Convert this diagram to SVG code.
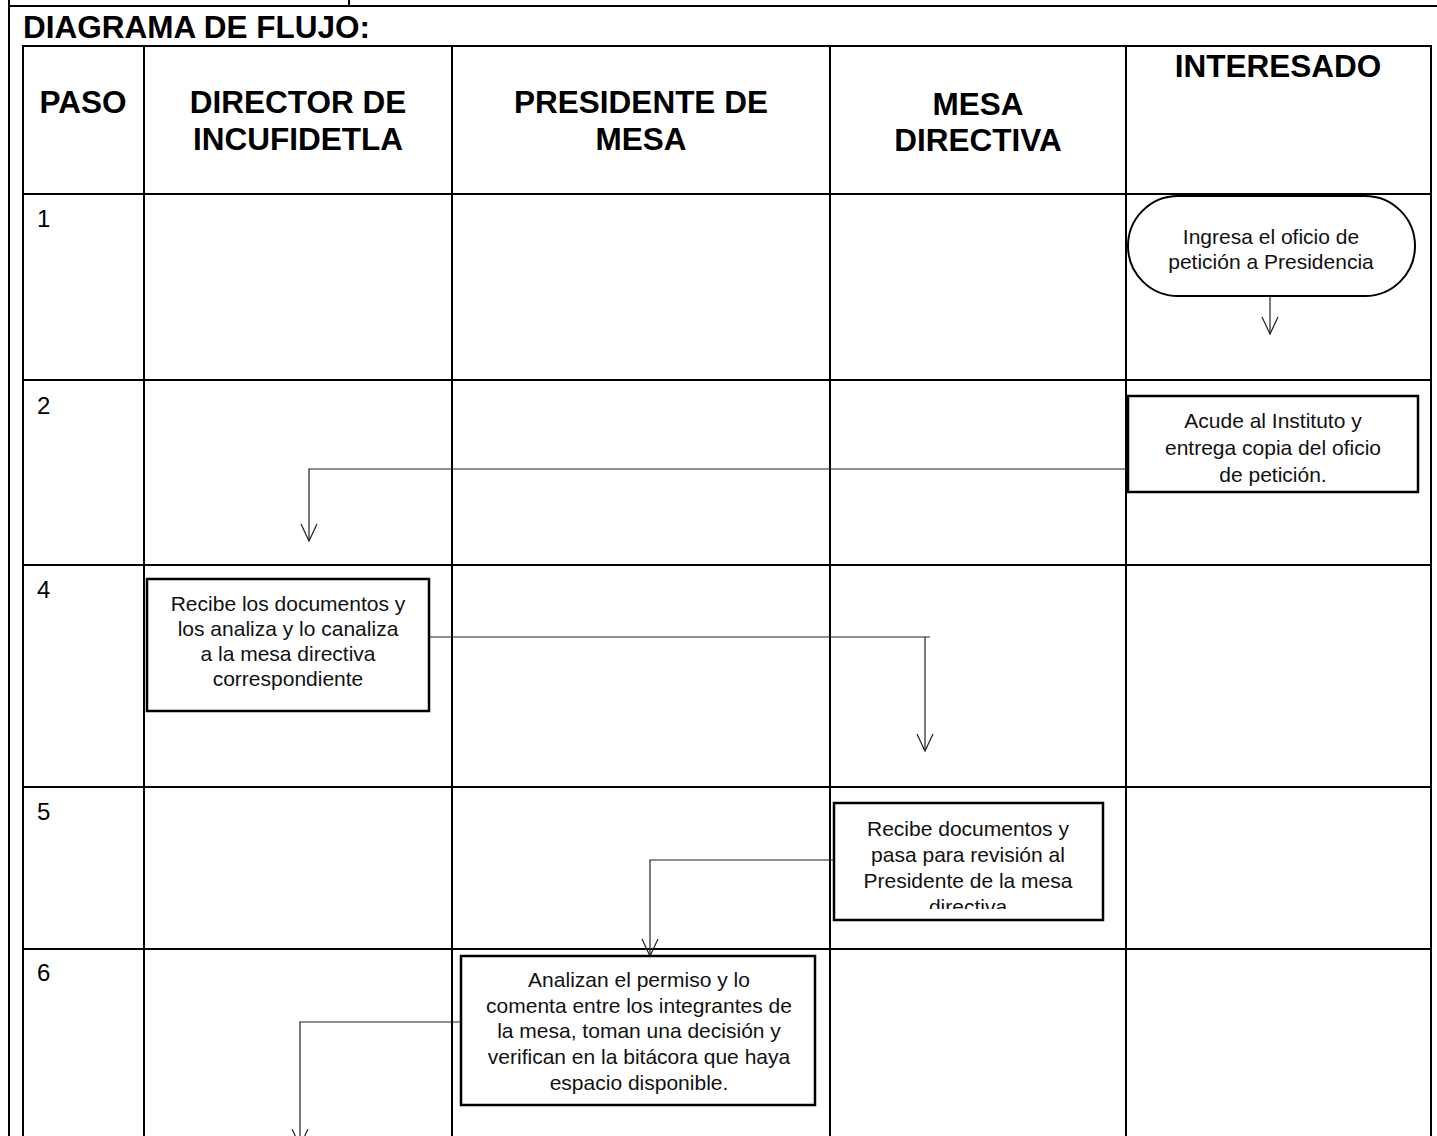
<svg xmlns="http://www.w3.org/2000/svg" width="1437" height="1136" viewBox="0 0 1437 1136">
<style>
.frame{fill:none;stroke:#000;stroke-width:2}
.grid{stroke:#000;stroke-width:2;fill:none}
.hd{font-family:"Liberation Sans",Arial,sans-serif;font-weight:bold;font-size:31.5px;fill:#000;text-anchor:middle}
.step{font-family:"Liberation Sans",Arial,sans-serif;font-size:24px;fill:#000}
.lbl{font-family:"Liberation Sans",Arial,sans-serif;font-size:21px;fill:#111;text-anchor:middle}
.box{fill:#fff;stroke:#000;stroke-width:2.5}
.conn{fill:none;stroke:#222;stroke-width:1.2}
</style>
<defs>
<marker id="arr" markerUnits="userSpaceOnUse" markerWidth="24" markerHeight="24" viewBox="-20 -12 24 24" refX="0" refY="0" orient="auto" overflow="visible">
<path d="M-17,-8 L0,0 L-17,8" fill="none" stroke="#222" stroke-width="1.2"/>
</marker>
<clipPath id="c2"><rect x="1130" y="398" width="286" height="88"/></clipPath>
<clipPath id="c5"><rect x="836" y="805" width="265" height="104"/></clipPath>
</defs>
<rect width="1437" height="1136" fill="#fff"/>
<g id="page-frame">
<line class="frame" x1="9" y1="0" x2="9" y2="1136"/>
<line class="frame" x1="9" y1="6" x2="1437" y2="6"/>
<line class="frame" x1="349" y1="0" x2="349" y2="6"/>
</g>
<text id="title" x="23" y="38" class="hd" style="text-anchor:start">DIAGRAMA DE FLUJO:</text>
<g id="table">
<rect class="grid" x="23" y="46" width="1408" height="1100"/>
<line class="grid" x1="23" y1="194" x2="1431" y2="194"/>
<line class="grid" x1="23" y1="380" x2="1431" y2="380"/>
<line class="grid" x1="23" y1="565" x2="1431" y2="565"/>
<line class="grid" x1="23" y1="787" x2="1431" y2="787"/>
<line class="grid" x1="23" y1="949" x2="1431" y2="949"/>
<line class="grid" x1="144" y1="46" x2="144" y2="1136"/>
<line class="grid" x1="452" y1="46" x2="452" y2="1136"/>
<line class="grid" x1="830" y1="46" x2="830" y2="1136"/>
<line class="grid" x1="1126" y1="46" x2="1126" y2="1136"/>
<text class="hd" x="83" y="113">PASO</text>
<text class="hd" x="298" y="113">DIRECTOR DE</text>
<text class="hd" x="298" y="150">INCUFIDETLA</text>
<text class="hd" x="641" y="113">PRESIDENTE DE</text>
<text class="hd" x="641" y="150">MESA</text>
<text class="hd" x="978" y="115">MESA</text>
<text class="hd" x="978" y="151">DIRECTIVA</text>
<text class="hd" x="1278" y="77">INTERESADO</text>
<text class="step" x="37" y="227">1</text>
<text class="step" x="37" y="414">2</text>
<text class="step" x="37" y="598">4</text>
<text class="step" x="37" y="820">5</text>
<text class="step" x="37" y="981">6</text>
</g>
<g id="connectors">
<path class="conn" d="M1270,296 L1270,334" marker-end="url(#arr)"/>
<path class="conn" d="M1136,469 L309,469 L309,541" marker-end="url(#arr)"/>
<path class="conn" d="M429,637 L930,637"/>
<path class="conn" d="M925,637 L925,751" marker-end="url(#arr)"/>
<path class="conn" d="M838,860 L650,860 L650,956" marker-end="url(#arr)"/>
<path class="conn" d="M461,1022 L300,1022 L300,1146" marker-end="url(#arr)"/>
</g>
<g id="n1">
<rect x="1128" y="196" width="287" height="100" rx="50" ry="50" fill="#fff" stroke="#000" stroke-width="2"/>
<text class="lbl" x="1271" y="244">Ingresa el oficio de</text>
<text class="lbl" x="1271" y="269">petición a Presidencia</text>
</g>
<g id="n2">
<rect class="box" x="1128" y="396" width="290" height="96"/>
<g clip-path="url(#c2)">
<text class="lbl" x="1273" y="428">Acude al Instituto y</text>
<text class="lbl" x="1273" y="455">entrega copia del oficio</text>
<text class="lbl" x="1273" y="482">de petición.</text>
</g>
</g>
<g id="n4">
<rect class="box" x="147" y="579" width="282" height="132"/>
<text class="lbl" x="288" y="611">Recibe los documentos y</text>
<text class="lbl" x="288" y="636">los analiza y lo canaliza</text>
<text class="lbl" x="288" y="661">a la mesa directiva</text>
<text class="lbl" x="288" y="686">correspondiente</text>
</g>
<g id="n5">
<rect class="box" x="834" y="803" width="269" height="117"/>
<g clip-path="url(#c5)">
<text class="lbl" x="968" y="836">Recibe documentos y</text>
<text class="lbl" x="968" y="862">pasa para revisión al</text>
<text class="lbl" x="968" y="888">Presidente de la mesa</text>
<text class="lbl" x="968" y="914">directiva</text>
</g>
</g>
<g id="n6">
<rect class="box" x="461" y="956" width="354" height="149"/>
<text class="lbl" x="639" y="987">Analizan el permiso y lo</text>
<text class="lbl" x="639" y="1013">comenta entre los integrantes de</text>
<text class="lbl" x="639" y="1038">la mesa, toman una decisión y</text>
<text class="lbl" x="639" y="1064">verifican en la bitácora que haya</text>
<text class="lbl" x="639" y="1090">espacio disponible.</text>
</g>
</svg>
